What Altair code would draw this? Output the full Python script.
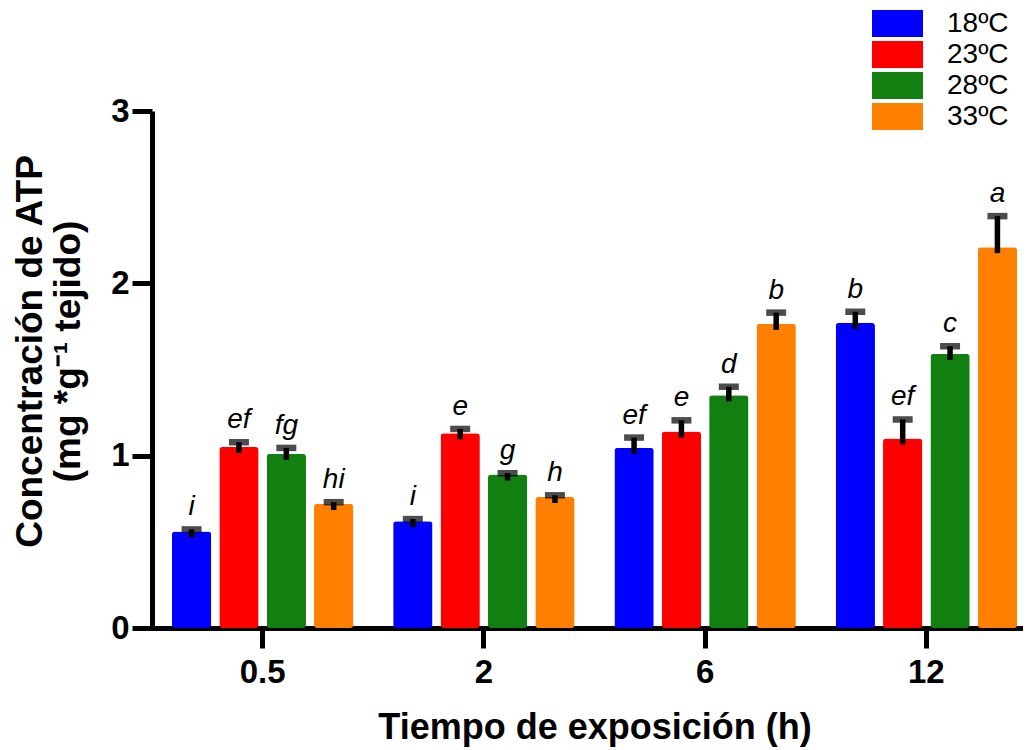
import altair as alt
import pandas as pd

times = ["0.5", "2", "6", "12"]
temps = ["18ºC", "23ºC", "28ºC", "33ºC"]
colors = ["#0000ff", "#ff0000", "#118011", "#ff8000"]

mean_18 = [0.56, 0.62, 1.045, 1.77]
mean_23 = [1.05, 1.13, 1.14, 1.10]
mean_28 = [1.01, 0.89, 1.35, 1.59]
mean_33 = [0.72, 0.76, 1.765, 2.21]

err_18 = [0.012, 0.012, 0.06, 0.065]
err_23 = [0.028, 0.025, 0.065, 0.11]
err_28 = [0.035, 0.008, 0.05, 0.045]
err_33 = [0.01, 0.01, 0.065, 0.18]

let_18 = ["i", "i", "ef", "b"]
let_23 = ["ef", "e", "e", "ef"]
let_28 = ["fg", "g", "d", "c"]
let_33 = ["hi", "h", "b", "a"]

rows = []
for t, means, errs, lets in zip(temps, [mean_18, mean_23, mean_28, mean_33],
                                [err_18, err_23, err_28, err_33],
                                [let_18, let_23, let_28, let_33]):
    for i, tm in enumerate(times):
        rows.append({"time": tm, "temp": t, "mean": means[i],
                     "top": means[i] + errs[i], "letter": lets[i]})
df = pd.DataFrame(rows)

FONT = "Liberation Sans"

x_enc = alt.X("time:N", sort=times,
              scale=alt.Scale(paddingInner=0.1435, paddingOuter=0.0718,
                              range=[0, 885]),
              axis=alt.Axis(title="Tiempo de exposición (h)", labelAngle=0,
                            tickSize=20, labelPadding=8, titlePadding=21,
                            titleFontSize=36))
xo_enc = alt.XOffset("temp:N", sort=temps,
                     scale=alt.Scale(paddingInner=0.17, paddingOuter=0.085))

base = alt.Chart(df)

bars = base.mark_bar(cornerRadius=3).encode(
    x=x_enc,
    xOffset=xo_enc,
    y=alt.Y("mean:Q", scale=alt.Scale(domain=[0, 3], nice=False),
            axis=alt.Axis(title=["Concentración de ATP", "(mg *g⁻¹ tejido)"],
                          values=[0, 1, 2, 3], format="d", tickSize=20,
                          labelPadding=3, titlePadding=23, titleY=240,
                          grid=False, titleFontSize=37, titleLineHeight=38)),
    color=alt.Color("temp:N", sort=temps,
                    scale=alt.Scale(domain=temps, range=colors),
                    legend=alt.Legend(title=None, orient="none",
                                      legendX=720, legendY=-103,
                                      symbolType="M-1,-0.53H1V0.53H-1Z",
                                      symbolSize=2601, symbolStrokeWidth=0,
                                      symbolOpacity=1, clipHeight=31,
                                      labelFontSize=28, labelFont=FONT,
                                      labelColor="black", labelOffset=24,
                                      rowPadding=0)),
)

rule = base.mark_rule(color="black", strokeWidth=5.5, yOffset=6).encode(
    x=alt.X("time:N", sort=times),
    xOffset=alt.XOffset("temp:N", sort=temps),
    y="mean:Q",
    y2="top:Q",
)

cap = base.mark_tick(color="black", thickness=6.5, size=20, orient="horizontal").encode(
    x=alt.X("time:N", sort=times),
    xOffset=alt.XOffset("temp:N", sort=temps),
    y="top:Q",
)

text = base.mark_text(font=FONT, fontSize=28, fontStyle="italic",
                      baseline="alphabetic", dy=-14, color="black").encode(
    x=alt.X("time:N", sort=times),
    xOffset=alt.XOffset("temp:N", sort=temps),
    y="top:Q",
    text="letter:N",
)

chart = alt.layer(bars, rule, cap, text).properties(
    width=871, height=517,
    autosize=alt.AutoSizeParams(type="none"),
    padding={"left": 144, "top": 103, "right": 0, "bottom": 122},
).configure_view(stroke=None).configure_axis(
    domainColor="black", domainWidth=5, tickColor="black", tickWidth=5,
    labelFont=FONT, labelFontSize=33, labelFontWeight="bold", labelColor="black",
    titleFont=FONT, titleFontWeight="bold", titleColor="black",
).configure_axisX(domainCap="square")

chart.save("out.html", embed_options={"renderer": "svg", "actions": False})
